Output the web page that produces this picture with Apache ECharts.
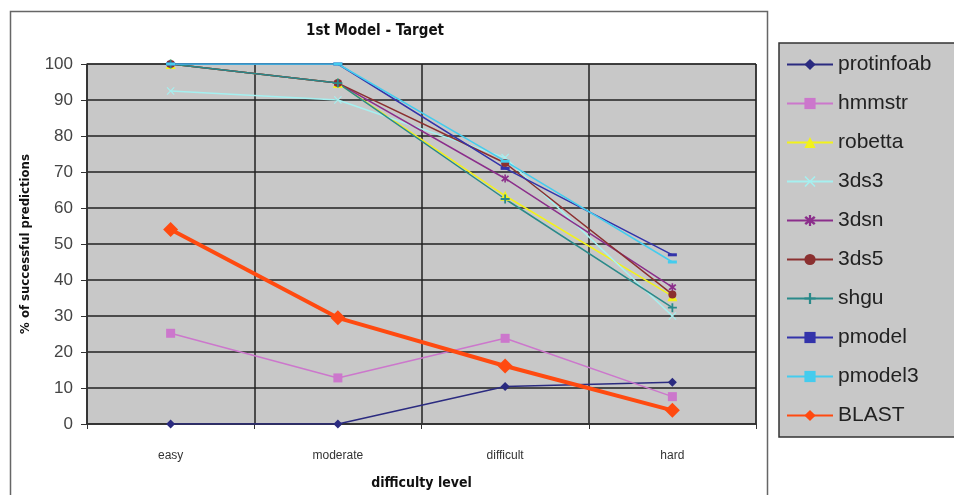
<!DOCTYPE html>
<html><head><meta charset="utf-8">
<script src="https://cdn.jsdelivr.net/npm/echarts@6/dist/echarts.min.js"></script>
<style>html,body{margin:0;padding:0;background:#fff}#c{width:954px;height:495px}</style>
</head><body><div id="c"></div>
<script>
const categories = ['easy', 'moderate', 'difficult', 'hard'];
const yTicks = [0, 10, 20, 30, 40, 50, 60, 70, 80, 90, 100];
const protinfoab = [0, 0, 10.4, 11.6];
const hmmstr = [25.2, 12.8, 23.8, 7.6];
const robetta = [100, 94.7, 63.4, 35.5];
const ds3 = [92.5, 90, 74, 30];
const dsn = [100, 94.7, 68.2, 38];
const ds5 = [100, 94.7, 72.5, 36];
const shgu = [100, 94.7, 62.5, 32.3];
const pmodel = [100, 100, 71, 47];
const pmodel3 = [100, 100, 73, 45];
const blast = [54, 29.5, 16.1, 3.8];

const xPath = 'path://M1,0 L5,4 L9,0 L10,1 L6,5 L10,9 L9,10 L5,6 L1,10 L0,9 L4,5 L0,1 Z';
const star = 'path://M4,0 L6,0 L6,3 L8.5,1 L10,2.5 L7,5 L10,7.5 L8.5,9 L6,7 L6,10 L4,10 L4,7 L1.5,9 L0,7.5 L3,5 L0,2.5 L1.5,1 L4,3 Z';
const plus = 'path://M4,0 L6,0 L6,4 L10,4 L10,6 L6,6 L6,10 L4,10 L4,6 L0,6 L0,4 L4,4 Z';
const dash = 'path://M0,0 L10,0 L10,3 L0,3 Z';

function mk(name, data, color, symbol, size, width) {
  return {
    name: name, type: 'line', data: data, symbol: symbol, symbolSize: size,
    lineStyle: {color: color, width: width || 1.5},
    itemStyle: {color: color},
    emphasis: {disabled: true}, animation: false
  };
}

const chart = echarts.init(document.getElementById('c'));
chart.setOption({
  animation: false,
  title: {
    text: '1st Model - Target', left: 370, top: 19, textAlign: 'center',
    textStyle: {fontFamily: 'DejaVu Sans Condensed, Liberation Sans Narrow, Liberation Sans', fontWeight: 'bold', fontSize: 15, color: '#111'}
  },
  graphic: [{
    type: 'rect', left: 8, top: 9, shape: {width: 757, height: 500},
    style: {fill: 'none', stroke: '#666', lineWidth: 1.5}, z: -1
  }],
  legend: {
    orient: 'vertical', left: 779, top: 43,
    backgroundColor: '#c8c8c8', borderColor: '#333', borderWidth: 1.5,
    padding: [11, 60, 11, 7],
    itemWidth: 46, itemHeight: 14, itemGap: 18,
    textStyle: {fontFamily: 'Liberation Sans, Arial', fontSize: 21, color: '#222', lineHeight: 20},
    data: ['protinfoab', 'hmmstr', 'robetta', '3ds3', '3dsn', '3ds5', 'shgu', 'pmodel', 'pmodel3', 'BLAST']
  },
  grid: {
    left: 87, right: 198, top: 64, bottom: 61, show: true,
    backgroundColor: '#c8c8c8', borderColor: '#444', borderWidth: 1
  },
  xAxis: {
    type: 'category', data: categories, boundaryGap: true,
    name: 'difficulty level', nameLocation: 'middle', nameGap: 52,
    nameTextStyle: {fontFamily: 'DejaVu Sans Condensed, Liberation Sans Narrow, Liberation Sans', fontWeight: 'bold', fontSize: 14, color: '#111'},
    axisLine: {lineStyle: {color: '#333', width: 1.5}},
    axisTick: {show: true, length: 5, lineStyle: {color: '#333'}},
    axisLabel: {fontFamily: 'Liberation Sans, Arial', fontSize: 12, color: '#333', margin: 26},
    splitLine: {show: true, lineStyle: {color: '#222', width: 1.5}}
  },
  yAxis: {
    type: 'value', min: yTicks[0], max: yTicks[yTicks.length - 1], interval: 10,
    name: '% of successful predictions', nameLocation: 'middle', nameGap: 55,
    nameTextStyle: {fontFamily: 'DejaVu Sans Condensed, Liberation Sans Narrow, Liberation Sans', fontWeight: 'bold', fontSize: 13, color: '#111'},
    axisLine: {show: true, lineStyle: {color: '#333', width: 1.5}},
    axisTick: {show: true, length: 6, lineStyle: {color: '#333'}},
    axisLabel: {fontFamily: 'Liberation Sans, Arial', fontSize: 17, color: '#444', margin: 14},
    splitLine: {show: true, lineStyle: {color: '#222', width: 1.5}}
  },
  series: [
    mk('protinfoab', protinfoab, '#2b2b80', 'diamond', 9),
    mk('hmmstr', hmmstr, '#cc77cc', 'rect', 9),
    mk('robetta', robetta, '#f2f21a', 'triangle', 10),
    mk('3ds3', ds3, '#a6f0f0', xPath, 8),
    mk('3dsn', dsn, '#8b2e8b', star, 8),
    mk('3ds5', ds5, '#8b3030', 'circle', 8),
    mk('shgu', shgu, '#2a8a8a', plus, 9),
    mk('pmodel', pmodel, '#3333aa', dash, [9, 3]),
    mk('pmodel3', pmodel3, '#44ccee', dash, [9, 3]),
    mk('BLAST', blast, '#ff4a10', 'diamond', 15, 4)
  ]
});
</script></body></html>
